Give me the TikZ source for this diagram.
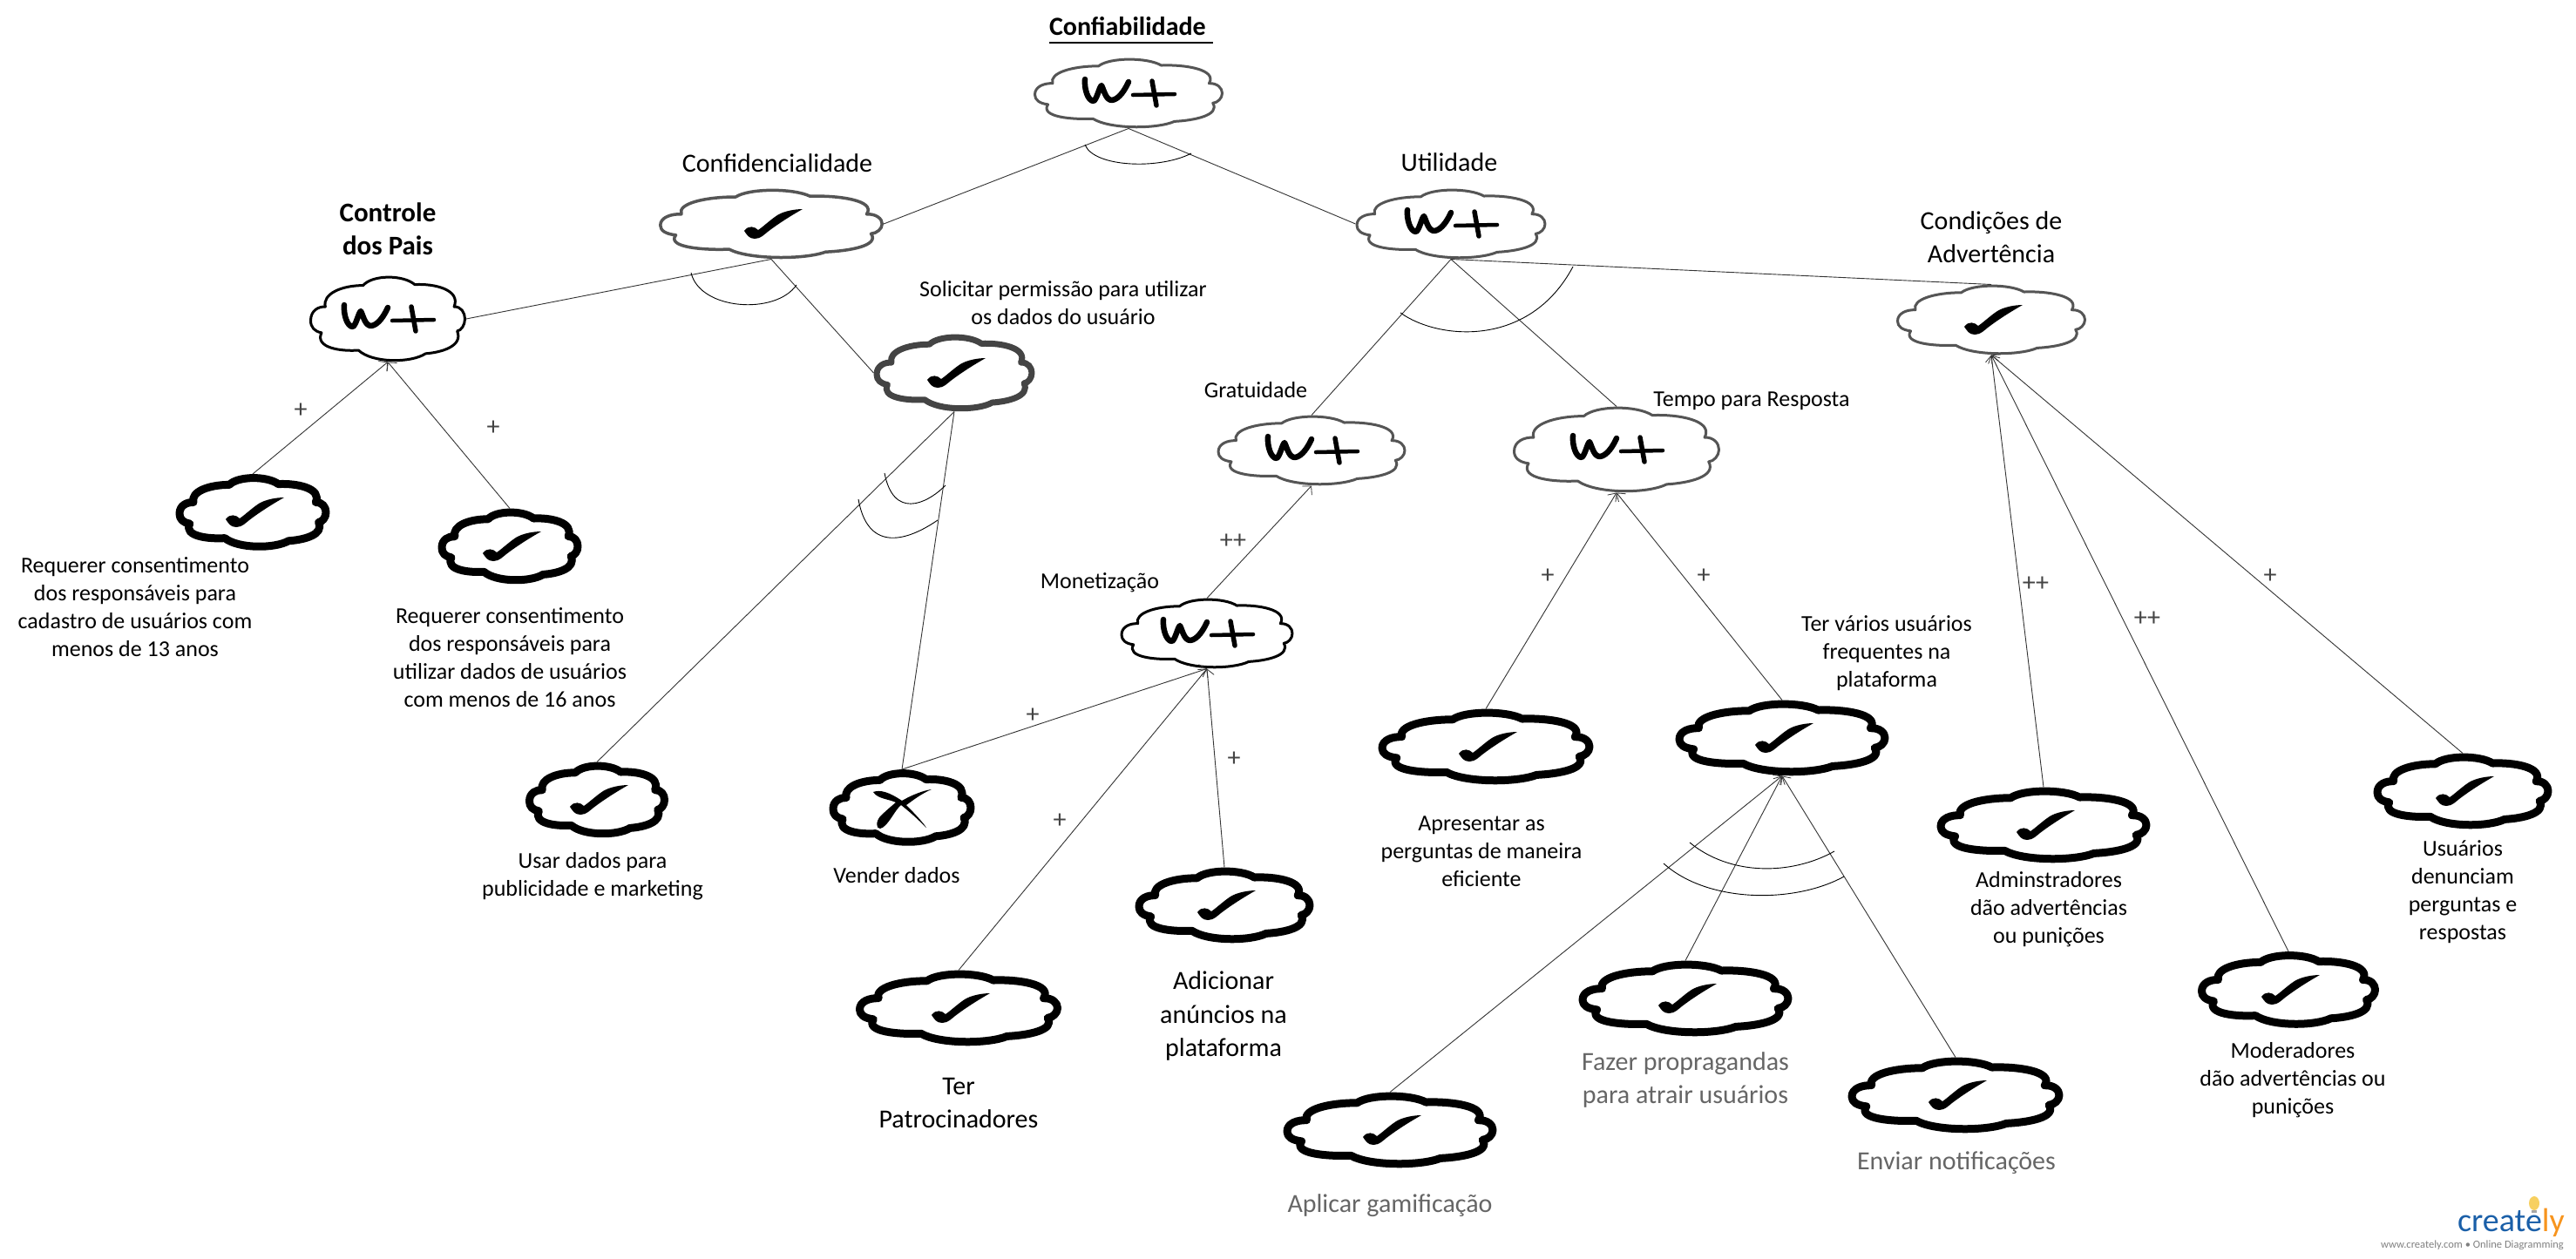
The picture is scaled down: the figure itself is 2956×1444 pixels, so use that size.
\documentclass[tikz,border=0pt]{standalone}
\usepackage{fontspec}
\setmainfont{Carlito}
\usetikzlibrary{arrows.meta,shapes.geometric}
\definecolor{thinline}{HTML}{555555}
\definecolor{midgrey}{HTML}{444444}
\definecolor{plusgrey}{HTML}{444444}
\definecolor{softtext}{HTML}{666666}
\definecolor{logoblue}{HTML}{1A5FA8}
\definecolor{logoorange}{HTML}{F7941D}
\definecolor{bulb}{HTML}{F7D060}
\newcommand\symcheck{\fill[black] (36,17) .. controls (28,17) and (15,15) .. (7,10) .. controls (-2,4) and (-9,-3) .. (-15,-7) .. controls (-19,-3) and (-26,-1) .. (-31,-8) .. controls (-28,-12) and (-26,-17) .. (-19,-17) .. controls (-12,-17) and (-8,-12) .. (-4,-9) .. controls (5,-2) and (20,8) .. cycle;}
\newcommand\symcross{\fill[black] (-33,18) .. controls (-25,21) and (-15,18) .. (0,8) .. controls (10,14) and (25,20) .. (34,21) .. controls (22,16) and (12,8) .. (5,3) .. controls (15,-7) and (25,-18) .. (28,-23) .. controls (18,-13) and (8,-4) .. (-1,3) .. controls (-8,-2) and (-16,-22) .. (-25,-24) .. controls (-30,-24) and (-30,-16) .. (-25,-10) .. controls (-20,-5) and (-12,2) .. (-7,6) .. controls (-15,10) and (-28,10) .. cycle;}
\newcommand\symwplus{\draw[black,line width=6.5pt,line cap=round,line join=round] (-50,16) .. controls (-51,6) and (-47,-9) .. (-40,-9) .. controls (-36,-6) and (-34,6) .. (-31,9) .. controls (-28,3) and (-26,-8) .. (-19,-8) .. controls (-11,-7) and (-4,4) .. (0,13);
\draw[black,line width=4.5pt,line cap=round] (5,-2) -- (53,-1);
\draw[black,line width=5.5pt,line cap=round] (27,14) -- (32,-14);}
\newcommand\cloudnode[8]{%
\node[cnode={#4}{#5}] (#1) at (#2,#3) {};
\pgfmathsetmacro\wa{(#4-#6)/2}\pgfmathsetmacro\ha{(#5-#6)/2}
\begin{scope}[shift={(#1.center)}]
\draw[fill=white,draw=#7,line width=#6pt,line join=round,x=\wa pt,y=\ha pt]
 (-1,-0.04) .. controls (-1,0.2) and (-0.9,0.3) .. (-0.81,0.29)
 .. controls (-0.85,0.6) and (-0.6,0.8) .. (-0.32,0.8)
 .. controls (-0.2,1.06) and (0.2,1.06) .. (0.35,0.82)
 .. controls (0.6,0.85) and (0.95,0.7) .. (0.86,0.29)
 .. controls (0.95,0.3) and (1,0.15) .. (1,0)
 .. controls (1,-0.15) and (0.95,-0.28) .. (0.9,-0.29)
 .. controls (0.98,-0.65) and (0.7,-0.8) .. (0.49,-0.83)
 .. controls (0.3,-1.06) and (-0.2,-1.06) .. (-0.38,-0.75)
 .. controls (-0.6,-0.78) and (-0.95,-0.7) .. (-0.86,-0.33)
 .. controls (-0.95,-0.3) and (-1,-0.2) .. cycle;
\begin{scope}[x=1pt,y=1pt]#8\end{scope}
\end{scope}}
\tikzset{
 cnode/.style 2 args={ellipse,inner sep=0pt,outer sep=0pt,minimum width=#1pt,minimum height=#2pt},
 link/.style={draw=black!80,line width=0.9pt},
 contrib/.style={draw=black!80,line width=0.9pt,-{Straight Barb[length=7pt,width=15pt,line width=0.8pt]}},
 andarc/.style={draw=black,line width=0.9pt},
 lab/.style={inner sep=0pt,align=center,yshift=-2pt,font=\fontsize{26}{32}\selectfont},
 biglab/.style={inner sep=0pt,align=center,yshift=-2pt,font=\fontsize{30}{38.5}\selectfont},
 softlab/.style={inner sep=0pt,align=center,yshift=-2pt,text=softtext,font=\fontsize{30}{38}\selectfont},
 plus/.style={inner sep=0pt,yshift=-3pt,text=plusgrey,font=\fontsize{30}{30}\selectfont}
}
\begin{document}
\begin{tikzpicture}[x=1pt,y=-1pt]
\useasboundingbox (0,0) rectangle (2956,1444);
% clouds
\cloudnode{top}{1295}{107}{218}{81}{3}{thinline}{\symwplus}
\cloudnode{confid}{885}{257}{258}{81}{3.5}{thinline}{\symcheck}
\cloudnode{util}{1665}{257}{219}{81}{3}{thinline}{\symwplus}
\cloudnode{cond}{2285}{367}{218}{81}{3}{thinline}{\symcheck}
\cloudnode{ctrl}{445}{366}{180}{99}{3}{black}{\symwplus}
\cloudnode{solic}{1095}{428}{185}{89}{7}{midgrey}{\symcheck}
\cloudnode{grat}{1505}{517}{217}{81}{3}{thinline}{\symwplus}
\cloudnode{tempo}{1855}{516}{238}{99}{3}{thinline}{\symwplus}
\cloudnode{monet}{1385}{727}{199}{81}{3}{black}{\symwplus}
\cloudnode{reqa}{290}{588}{177}{88}{9}{black}{\symcheck}
\cloudnode{reqb}{585}{627}{165}{87}{9}{black}{\symcheck}
\cloudnode{usar}{685}{918}{164}{87}{9}{black}{\symcheck}
\cloudnode{vender}{1035}{927}{167}{88}{9}{black}{\symcross}
\cloudnode{adic}{1405}{1039}{205}{87}{9}{black}{\symcheck}
\cloudnode{patro}{1100}{1157}{236}{87}{9}{black}{\symcheck}
\cloudnode{apres}{1705}{857}{247}{87}{9}{black}{\symcheck}
\cloudnode{freq}{2045}{847}{245}{87}{9}{black}{\symcheck}
\cloudnode{fazer}{1934}{1146}{245}{87}{9}{black}{\symcheck}
\cloudnode{gamif}{1595}{1297}{245}{87}{9}{black}{\symcheck}
\cloudnode{notif}{2244}{1257}{247}{87}{9}{black}{\symcheck}
\cloudnode{admin}{2345}{947}{245}{87}{9}{black}{\symcheck}
\cloudnode{moder}{2626}{1136}{208}{88}{9}{black}{\symcheck}
\cloudnode{denun}{2826}{908}{205}{87}{9}{black}{\symcheck}
% decomposition links
\draw[link] (top.south) -- (confid.east);
\draw[link] (top.south) -- (util.west);
\draw[link] (confid.south) -- (ctrl.east);
\draw[link] (confid.south) -- (solic.west);
\draw[link] (solic.south) -- (usar.north);
\draw[link] (solic.south) -- (vender.north);
\draw[link] (util.south) -- (cond.north);
\draw[link] (util.south) -- (grat.north);
\draw[link] (util.south) -- (tempo.north);
% contribution links
\draw[contrib] (reqa.north) -- (ctrl.south);
\draw[contrib] (reqb.north) -- (ctrl.south);
\draw[contrib] (monet.north) -- (grat.south);
\draw[contrib] (vender.north) -- (monet.south);
\draw[contrib] (patro.north) -- (monet.south);
\draw[contrib] (adic.north) -- (monet.south);
\draw[contrib] (apres.north) -- (tempo.south);
\draw[contrib] (freq.north) -- (tempo.south);
\draw[contrib] (gamif.north) -- (freq.south);
\draw[contrib] (fazer.north) -- (freq.south);
\draw[contrib] (notif.north) -- (freq.south);
\draw[contrib] (admin.north) -- (cond.south);
\draw[contrib] (moder.north) -- (cond.south);
\draw[contrib] (denun.north) -- (cond.south);
% AND arcs
\draw[andarc] (1245,166) .. controls (1255,192) and (1330,195) .. (1367,176);
\draw[andarc] (793,313) .. controls (803,356) and (890,362) .. (914,327);
\draw[andarc] (1015,543) .. controls (1025,595) and (1062,580) .. (1085,557);
\draw[andarc] (985,573) .. controls (995,630) and (1035,625) .. (1076,597);
\draw[andarc] (1607,359) .. controls (1650,390) and (1755,400) .. (1805,306);
\draw[andarc] (1939,967) .. controls (1985,1005) and (2055,1005) .. (2105,977);
\draw[andarc] (1909,991) .. controls (1960,1037) and (2060,1037) .. (2116,1006);
% labels
\node[inner sep=0pt,inner ysep=8pt,text width=188pt,align=left,font=\fontsize{30}{32}\selectfont\bfseries] (ttop) at (1298,30) {Confiabilidade};
\draw[line width=2pt] (ttop.south west) -- (ttop.south east);
\node[biglab] (tconfid) at (892,185) {Confidencialidade};
\node[biglab,font=\fontsize{31}{38}\selectfont\bfseries] (tctrl) at (445,261) {Controle\\dos Pais};
\node[biglab] (tutil) at (1663,184) {Utilidade};
\node[biglab] (tcond) at (2285,270) {Condições de\\Advertência};
\node[lab] (tsolic) at (1220,346) {Solicitar permissão para utilizar\\os dados do usuário};
\node[lab] (tgrat) at (1441,446) {Gratuidade};
\node[lab] (ttempo) at (2010,458) {Tempo para Resposta};
\node[lab] (tmonet) at (1262,667) {Monetização};
\node[lab] (treqa) at (155,695) {Requerer consentimento\\dos responsáveis para\\cadastro de usuários com\\menos de 13 anos};
\node[lab] (treqb) at (585,753) {Requerer consentimento\\dos responsáveis para\\utilizar dados de usuários\\com menos de 16 anos};
\node[lab] (tusar) at (680,1004) {Usar dados para\\publicidade e marketing};
\node[lab] (tvender) at (1029,1003) {Vender dados};
\node[biglab] (tadic) at (1404,1164) {Adicionar\\anúncios na\\plataforma};
\node[biglab] (tpatro) at (1100,1264) {Ter\\Patrocinadores};
\node[lab] (tapres) at (1700,975) {Apresentar as\\perguntas de maneira\\eficiente};
\node[lab] (tfreq) at (2165,748) {Ter vários usuários\\frequentes na\\plataforma};
\node[softlab] (tfazer) at (1934,1237) {Fazer propragandas\\para atrair usuários};
\node[softlab] (tgamif) at (1595,1382) {Aplicar gamificação};
\node[softlab] (tnotif) at (2245,1333) {Enviar notificações};
\node[lab] (tadmin) at (2351,1042) {Adminstradores\\dão advertências\\ou punições};
\node[lab] (tmoder) at (2631,1238) {Moderadores\\dão advertências ou\\punições};
\node[lab] (tdenun) at (2826,1022) {Usuários\\denunciam\\perguntas e\\respostas};
% plus marks
\node[plus] (p1) at (345,468) {+};
\node[plus] (p2) at (566,488) {+};
\node[plus] (p3) at (1415,618) {++};
\node[plus] (p4) at (1185,818) {+};
\node[plus] (p5) at (1416,868) {+};
\node[plus] (p6) at (1216,939) {+};
\node[plus] (p7) at (1776,658) {+};
\node[plus] (p8) at (1955,658) {+};
\node[plus] (p9) at (2336,667) {++};
\node[plus] (p10) at (2464,707) {++};
\node[plus] (p11) at (2605,658) {+};
% logo
\fill[bulb] (2908,1381) ellipse (6pt and 8pt);
\fill[black!35] (2905,1389) rectangle (2911,1392);
\node[inner sep=0pt,anchor=base east,font=\fontsize{38}{38}\selectfont,text=logoblue] (logo) at (2943,1413) {create\textcolor{logoorange}{ly}};
\node[inner sep=0pt,anchor=base east,font=\fontsize{12.5}{14}\selectfont,text=black!50] (logotxt) at (2942,1432) {www.creately.com • Online Diagramming};
\end{tikzpicture}
\end{document}
